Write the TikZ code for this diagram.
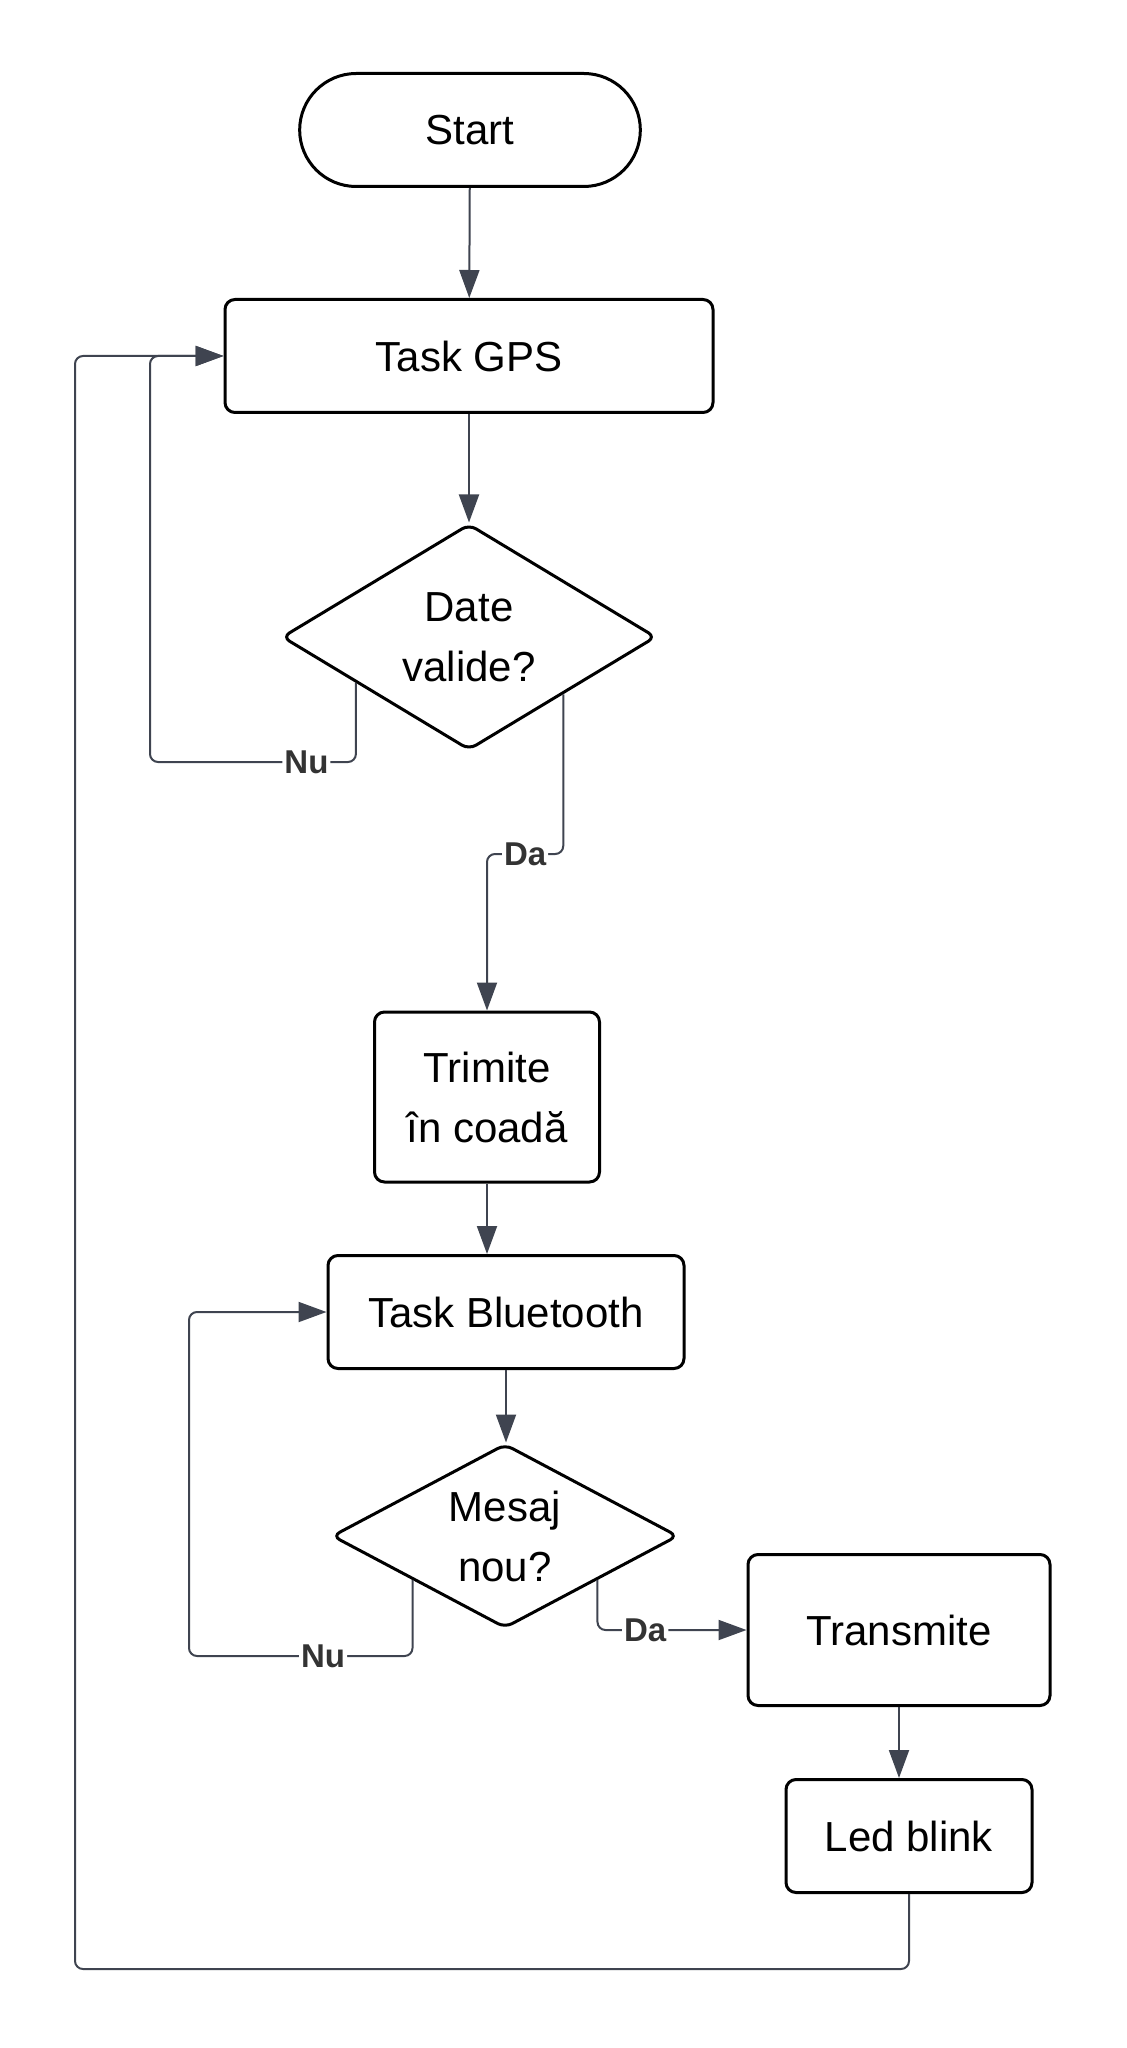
\documentclass[tikz,border=0pt]{standalone}
\usepackage{fontspec}
\setmainfont{Liberation Sans}
\usetikzlibrary{shapes.geometric, shapes.misc, arrows.meta, positioning, calc}

\definecolor{linegray}{HTML}{3F4450}
\definecolor{labelgray}{HTML}{333333}

\begin{document}
\begin{tikzpicture}[x=0.5pt, y=-0.5pt, >={Triangle[length=14pt,width=10pt]}]

\tikzstyle{block} = [draw, shape=rectangle, rounded corners=5pt, line width=1.5pt, minimum height=56.5pt, align=center, font=\fontsize{21}{30}\selectfont]
\tikzstyle{terminal} = [draw, shape=rounded rectangle, line width=1.5pt, minimum height=56.5pt, font=\fontsize{21}{30}\selectfont]
\tikzstyle{decision} = [draw, shape=diamond, rounded corners=4pt, line width=1.5pt, inner sep=0pt, align=center, font=\fontsize{21}{30}\selectfont]
\tikzstyle{flow} = [draw=linegray, line width=1pt, rounded corners=4pt]
\tikzstyle{answer} = [fill=white, text=labelgray, inner sep=1pt, font=\fontsize{16.5}{18}\selectfont\bfseries]

\useasboundingbox (0,0) rectangle (1127,2048);

\node [terminal, minimum width=177pt] at (470,130) (start) {Start};
\node [block, minimum width=244pt] at (469,356) (gps) {Task GPS};
\node [decision, aspect=1.65, minimum width=187pt, minimum height=113pt] at (469,637) (valid) {Date\\valide?};
\node [block, minimum width=112.5pt, minimum height=85pt] at (487,1097) (queue) {Trimite\\în coadă};
\node [block, minimum width=178pt] at (506,1312) (bt) {Task Bluetooth};
\node [decision, aspect=1.9, minimum width=173pt, minimum height=92pt] at (505,1536) (msg) {Mesaj\\nou?};
\node [block, minimum width=151pt, minimum height=75.5pt] at (899,1630) (tx) {Transmite};
\node [block, minimum width=123pt] at (909,1836) (led) {Led blink};

% bends of the loops
\coordinate (validno) at ($(valid.west)!0.4!(valid.south)$);
\coordinate (msgno) at ($(msg.west)!0.47!(msg.south)$);
\coordinate (msgyes) at ($(msg.east)!0.47!(msg.south)$);
\coordinate (gpsloop) at (150,762);
\coordinate (queuebend) at (487,854);
\coordinate (btloop) at (189,1656);
\coordinate (back) at (75,1969);

\begin{scope}[flow, ->]
     \draw (start) -- (gps);
     \draw (gps) -- (valid);
     \draw (validno) |- node[answer, pos=0.62] {Nu} (gpsloop) |- (gps.west);
     \draw (valid.south east) |- node[answer, pos=0.75] {Da} (queuebend) -- (queue.north);
     \draw (queue.south) -- (queue.south |- bt.north);
     \draw (bt.south) -- (bt.south |- msg.north);
     \draw (msgno) |- node[answer, pos=0.7] {Nu} (btloop) |- (bt.west);
     \draw (msgyes) |- node[answer, pos=0.66] {Da} (tx.west);
     \draw (tx.south) -- (tx.south |- led.north);
     \draw (led.south) |- (back) |- (gps.west);
\end{scope}
\end{tikzpicture}
\end{document}
